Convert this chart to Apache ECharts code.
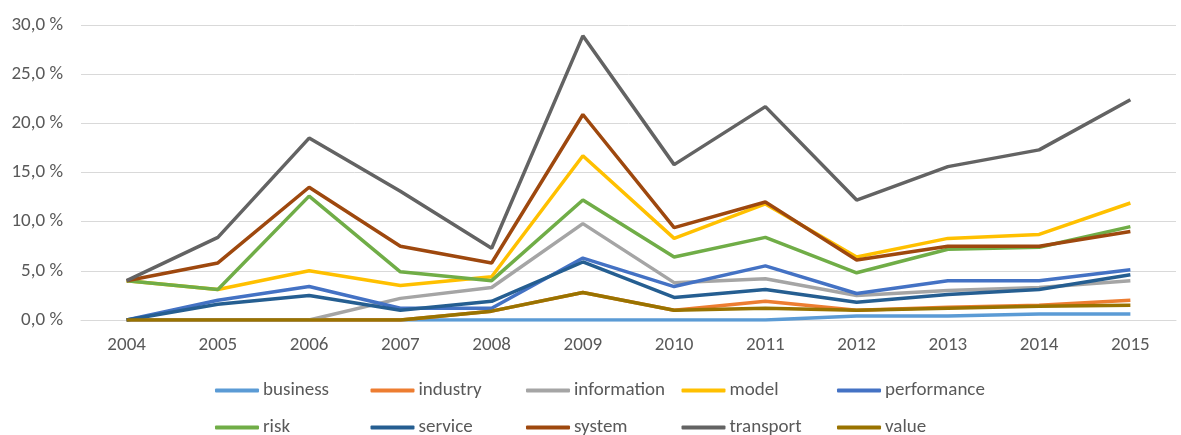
<!DOCTYPE html>
<html>
<head>
<meta charset="utf-8">
<script src="https://cdn.jsdelivr.net/npm/echarts@6/dist/echarts.min.js"></script>
<style>
    html, body { margin: 0; padding: 0; background: #fff; }
    #chart { width: 1181px; height: 435px; }
</style>
</head>
<body>
<div id="chart"></div>
<script>
const years = ['2004', '2005', '2006', '2007', '2008', '2009', '2010', '2011', '2012', '2013', '2014', '2015'];

// share in percent
const business    = [0, 0, 0, 0, 0, 0, 0, 0, 0.4, 0.4, 0.6, 0.6];
const industry    = [0, 0, 0, 0, 0.9, 2.8, 1.0, 1.9, 1.0, 1.3, 1.5, 2.0];
const information = [0, 0, 0, 2.2, 3.3, 9.8, 3.8, 4.2, 2.5, 3.0, 3.3, 4.0];
const model       = [4.0, 3.1, 5.0, 3.5, 4.4, 16.7, 8.3, 11.8, 6.4, 8.3, 8.7, 11.9];
const performance = [0, 2.0, 3.4, 1.2, 1.2, 6.3, 3.4, 5.5, 2.7, 4.0, 4.0, 5.1];
const risk        = [4.0, 3.1, 12.6, 4.9, 4.0, 12.2, 6.4, 8.4, 4.8, 7.2, 7.4, 9.5];
const service     = [0, 1.6, 2.5, 1.0, 1.9, 5.9, 2.3, 3.1, 1.8, 2.6, 3.1, 4.6];
const system      = [4.0, 5.8, 13.5, 7.5, 5.8, 20.9, 9.4, 12.0, 6.1, 7.5, 7.5, 9.0];
const transport   = [4.0, 8.4, 18.5, 13.1, 7.3, 28.9, 15.8, 21.7, 12.2, 15.6, 17.3, 22.4];
const value       = [0, 0, 0, 0, 0.9, 2.8, 1.0, 1.2, 1.0, 1.2, 1.4, 1.5];

const names = ['business', 'industry', 'information', 'model', 'performance',
               'risk', 'service', 'system', 'transport', 'value'];
const seriesData = [business, industry, information, model, performance,
                    risk, service, system, transport, value];
const colors = ['#5B9BD5', '#ED7D31', '#A5A5A5', '#FFC000', '#4472C4',
                '#70AD47', '#255E91', '#9E480E', '#636363', '#997300'];

const font = 'Carlito, "Liberation Sans", sans-serif';

const chart = echarts.init(document.getElementById('chart'));

// one legend per item so they line up in a 5x2 grid
const legends = names.map((name, i) => ({
    data: [name],
    left: 215 + (i % 5) * 155.5,
    top: i < 5 ? 381 : 418,
    padding: 0,
    icon: 'roundRect',
    itemWidth: 44,
    itemHeight: 4,
    itemGap: 0,
    textStyle: { color: '#595959', fontSize: 19, fontFamily: font, padding: [0, 0, 0, -1] }
}));

chart.setOption({
    animation: false,
    color: colors,
    grid: { left: 81, right: 5, top: 25, bottom: 115 },
    legend: legends,
    xAxis: {
        type: 'category',
        data: years,
        boundaryGap: true,
        axisLine: { lineStyle: { color: '#D9D9D9' } },
        axisTick: { show: false },
        axisLabel: { color: '#595959', fontSize: 19, fontFamily: font, margin: 16 }
    },
    yAxis: {
        type: 'value',
        min: 0,
        max: 30,
        interval: 5,
        axisLine: { show: false },
        axisTick: { show: false },
        splitLine: { lineStyle: { color: '#D9D9D9' } },
        axisLabel: {
            color: '#595959', fontSize: 19, fontFamily: font, margin: 18,
            formatter: v => v.toFixed(1).replace('.', ',') + ' %'
        }
    },
    series: names.map((name, i) => ({
        name: name,
        type: 'line',
        data: seriesData[i],
        symbol: 'none',
        lineStyle: { width: 3.5, color: colors[i] },
        itemStyle: { color: colors[i] }
    }))
});
</script>
</body>
</html>
